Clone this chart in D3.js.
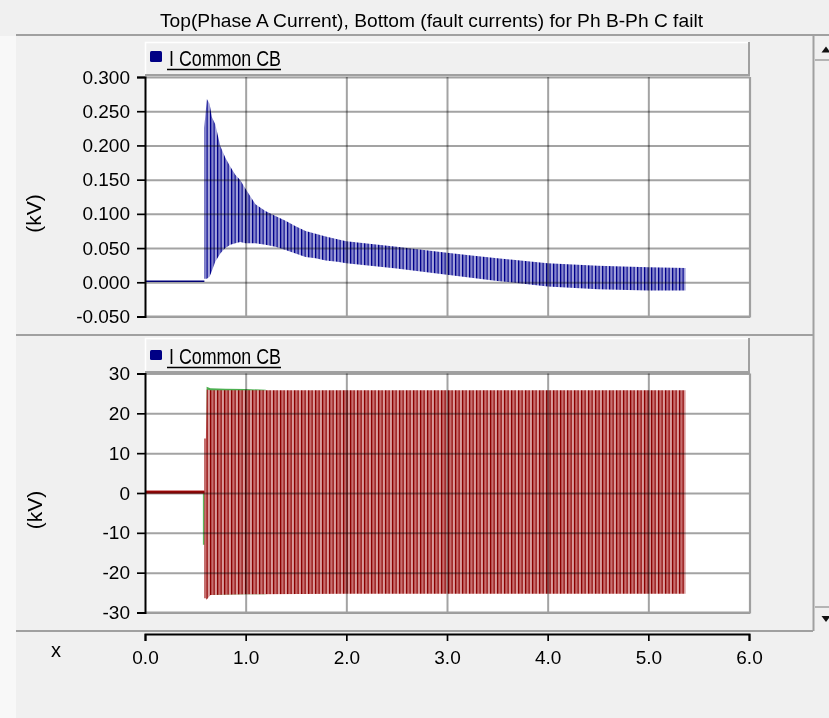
<!DOCTYPE html>
<html><head><meta charset="utf-8">
<script src="https://cdn.jsdelivr.net/npm/d3@7"></script>
<style>
html,body{margin:0;padding:0;background:#f0f0f0;}
svg{display:block;font-family:"Liberation Sans",Arial,sans-serif;}
</style></head><body>
<svg id="c" width="829" height="718"></svg>
<script>
// ---------- text ----------
const title = "Top(Phase A Current), Bottom (fault currents) for Ph B-Ph C failt";
const legendLabel = "I Common CB";
const yLabel = "(kV)";
const xLabel = "x";
// ---------- ticks ----------
const xTicks = [0, 1, 2, 3, 4, 5, 6];
const topTicks = [0.300, 0.250, 0.200, 0.150, 0.100, 0.050, 0.000, -0.050];
const bottomTicks = [30, 20, 10, 0, -10, -20, -30];
// ---------- top panel: Phase A current (envelope of fast oscillation) ----------
const topPreT = [0.00, 0.59];
const topPreV = [0.0015, 0.0015];
const topT     = [0.588,0.615,0.641,0.665,0.698,0.748,0.798,0.848,0.897,0.947,0.997,1.097,1.196,1.296,1.396,1.496,1.595,1.695,1.795,1.911,2.0,2.5,3.0,3.5,4.0,4.5,5.0,5.37];
const topUpper = [0.226,0.268,0.261,0.241,0.231,0.199,0.182,0.169,0.157,0.149,0.137,0.114,0.104,0.097,0.090,0.082,0.075,0.071,0.067,0.063,0.060,0.052,0.043,0.035,0.028,0.024,0.022,0.021];
const topLower = [0.005,0.005,0.008,0.017,0.030,0.042,0.050,0.055,0.057,0.059,0.057,0.057,0.055,0.052,0.047,0.042,0.037,0.035,0.032,0.030,0.028,0.020,0.011,0.002,-0.006,-0.010,-0.012,-0.012];
// ---------- bottom panel: fault currents Ph B (red) / Ph C (green) ----------
const botPreT = [0.00, 0.59];
const botPreUpper = [0.6, 0.6];
const botPreLower = [-0.2, -0.2];
const phBT     = [0.588, 0.605, 0.612, 0.65, 1.0, 2.0, 3.0, 4.0, 5.0, 5.37];
const phBUpper = [13.7, 13.7, 26.0, 25.8, 25.8, 25.8, 25.8, 25.8, 25.8, 25.8];
const phBLower = [-26.4, -26.4, -26.8, -25.6, -25.4, -25.3, -25.3, -25.3, -25.3, -25.3];
const phCT     = [0.612, 0.65, 0.8, 1.0, 1.2];
const phCUpper = [26.7, 26.3, 26.2, 26.1, 25.9];
const phCLower = [-25.6, -25.6, -25.5, -25.4, -25.4];
const phCStartT = [0.585, 0.585];
const phCStartV = [0, -13];

// ---------- layout ----------
const svg = d3.select("#c");
const L = 145, R = 750;
const x = d3.scaleLinear().domain([0, 6]).range([145, 749]);
const topBox = {y0: 77, y1: 316.5};
const botBox = {y0: 373.5, y1: 612.5};
const yTop = d3.scaleLinear().domain([-0.05, 0.3]).range([topBox.y1, topBox.y0]);
const yBot = d3.scaleLinear().domain([-30, 30]).range([botBox.y1, botBox.y0]);
const FONT = "Liberation Sans, Arial, sans-serif";

// background
svg.append("rect").attr("width", 829).attr("height", 718).attr("fill", "#f0f0f0");
svg.append("rect").attr("x", 0).attr("y", 36).attr("width", 16).attr("height", 682).attr("fill", "#f8f8f8");

// patterns
const defs = svg.append("defs");
function stripes(id, base, dark, light) {
  const p = defs.append("pattern").attr("id", id).attr("patternUnits", "userSpaceOnUse")
    .attr("width", 7).attr("height", 20);
  p.append("rect").attr("width", 7).attr("height", 20).attr("fill", base);
  p.append("rect").attr("x", 0).attr("width", 1.3).attr("height", 20).attr("fill", dark);
  p.append("rect").attr("x", 3.6).attr("width", 1.0).attr("height", 20).attr("fill", dark);
  p.append("rect").attr("x", 5.6).attr("width", 0.7).attr("height", 20).attr("fill", light);
}
stripes("blueStripes", "#8585cc", "#00008b", "#d6d6f0");
stripes("redStripes", "#c76e6e", "#8b0000", "#f6e4e4");

// title
svg.append("text").attr("x", 431.5).attr("y", 27).attr("text-anchor", "middle")
  .attr("font-size", 19).attr("font-family", FONT).attr("fill", "#000")
  .attr("textLength", 543).attr("lengthAdjust", "spacingAndGlyphs").text(title);

// frame lines
const frame = svg.append("g").attr("stroke", "#a0a0a0").attr("stroke-width", 2).attr("fill", "none");
frame.append("line").attr("x1", 16).attr("x2", 829).attr("y1", 35).attr("y2", 35);
frame.append("line").attr("x1", 16).attr("x2", 813).attr("y1", 335).attr("y2", 335);
frame.append("line").attr("x1", 16).attr("x2", 813).attr("y1", 631).attr("y2", 631);
frame.append("line").attr("x1", 813.5).attr("x2", 813.5).attr("y1", 36).attr("y2", 631);
frame.append("line").attr("x1", 815).attr("x2", 829).attr("y1", 60).attr("y2", 60).attr("stroke-width", 1.5);
frame.append("line").attr("x1", 815).attr("x2", 829).attr("y1", 607).attr("y2", 607).attr("stroke-width", 1.5);
svg.append("path").attr("d", "M821.5,52.5 L826,46.5 L830.5,52.5 Z").attr("fill", "#111");
svg.append("path").attr("d", "M821.5,616 L830.5,616 L826,622 Z").attr("fill", "#111");

// legend box
function legend(yTopL, yBotL, sqY, sqH, baseline, ulY) {
  const g = svg.append("g");
  g.append("rect").attr("x", L).attr("y", yTopL).attr("width", 749 - L).attr("height", yBotL - yTopL).attr("fill", "#f0f0f0");
  g.append("path").attr("d", `M${L + 0.5},${yBotL} V${yTopL + 0.5} H749`).attr("stroke", "#ffffff").attr("stroke-width", 1.5).attr("fill", "none");
  g.append("path").attr("d", `M749,${yTopL} V${yBotL} H${L}`).attr("stroke", "#a0a0a0").attr("stroke-width", 2).attr("fill", "none");
  g.append("rect").attr("x", 150).attr("y", sqY).attr("width", 12).attr("height", sqH).attr("rx", 1.5).attr("fill", "#000085");
  g.append("text").attr("x", 169).attr("y", baseline).attr("font-size", 22).attr("font-family", FONT)
    .attr("fill", "#000").attr("textLength", 112).attr("lengthAdjust", "spacingAndGlyphs").text(legendLabel);
  g.append("line").attr("x1", 167).attr("x2", 281).attr("y1", ulY).attr("y2", ulY).attr("stroke", "#000").attr("stroke-width", 1.5);
}
legend(42, 75, 51, 11, 66, 69.5);
legend(338, 372, 350, 10, 363.5, 367.5);

// plot backgrounds
function plotBg(box) {
  svg.append("rect").attr("x", L).attr("y", box.y0).attr("width", R - L).attr("height", box.y1 - box.y0).attr("fill", "#fff");
}
plotBg(topBox); plotBg(botBox);

// areas / series
const area = (ys) => d3.area().x(d => x(d.t)).y0(d => ys(d.lo)).y1(d => ys(d.hi));
const line = (ys) => d3.line().x(d => x(d.t)).y(d => ys(d.v));

// top series
const topData = topT.map((t, i) => ({t, hi: topUpper[i], lo: topLower[i]}));
svg.append("path").datum(topData).attr("d", area(yTop)).attr("fill", "url(#blueStripes)");
svg.append("path").datum(topPreT.map((t, i) => ({t, v: topPreV[i]})))
  .attr("d", line(yTop)).attr("stroke", "#000080").attr("stroke-width", 1.6).attr("fill", "none");

// bottom series
const phCData = phCT.map((t, i) => ({t, hi: phCUpper[i], lo: phCLower[i]}));
svg.append("path").datum(phCData).attr("d", area(yBot)).attr("fill", "#4caf50");
svg.append("path").datum(phCStartT.map((t, i) => ({t, v: phCStartV[i]})))
  .attr("d", line(yBot)).attr("stroke", "#5cb85c").attr("stroke-width", 2).attr("fill", "none");
const phBData = phBT.map((t, i) => ({t, hi: phBUpper[i], lo: phBLower[i]}));
svg.append("path").datum(phBData).attr("d", area(yBot)).attr("fill", "url(#redStripes)");
const preB = botPreT.map((t, i) => ({t, hi: botPreUpper[i], lo: botPreLower[i]}));
svg.append("path").datum(preB).attr("d", area(yBot)).attr("fill", "#b22222");
svg.append("path").datum(botPreT.map((t) => ({t, v: 0.25})))
  .attr("d", line(yBot)).attr("stroke", "#8b0000").attr("stroke-width", 1.3).attr("fill", "none");

// grids (multiply so they show through bands)
function grid(box, ys, ticks) {
  const gh = svg.append("g").attr("transform", `translate(${L},0)`)
    .call(d3.axisLeft(ys).tickValues(ticks).tickSize(-(R - L)).tickFormat(""));
  gh.select(".domain").remove();
  gh.selectAll("line").attr("stroke", "#a3a3a3").attr("stroke-width", 2).style("mix-blend-mode", "multiply");
  const gv = svg.append("g").attr("transform", `translate(0,${box.y1})`)
    .call(d3.axisBottom(x).tickValues(xTicks.slice(1, -1)).tickSize(-(box.y1 - box.y0)).tickFormat(""));
  gv.select(".domain").remove();
  gv.selectAll("line").attr("stroke", "#a3a3a3").attr("stroke-width", 2).style("mix-blend-mode", "multiply");
  svg.append("path").attr("d", `M${R},${box.y0} V${box.y1} H${L}`).attr("stroke", "#a0a0a0").attr("stroke-width", 2.2).attr("fill", "none");
}
grid(topBox, yTop, topTicks);
grid(botBox, yBot, bottomTicks);

// y axes
function yAxis(ys, ticks, fmt) {
  const g = svg.append("g").attr("transform", `translate(${L},0)`)
    .call(d3.axisLeft(ys).tickValues(ticks).tickFormat(fmt).tickSize(8).tickPadding(7));
  g.attr("font-size", 19).attr("font-family", FONT);
  g.select(".domain").attr("stroke", "#000").attr("stroke-width", 2);
  g.selectAll(".tick line").attr("stroke", "#000").attr("stroke-width", 1.7);
  g.selectAll(".tick text").attr("fill", "#000");
}
yAxis(yTop, topTicks, d => d.toFixed(3));
yAxis(yBot, bottomTicks, d => String(d));

// y labels
svg.append("text").attr("transform", "translate(33,213.5) rotate(-90)").attr("text-anchor", "middle")
  .attr("dominant-baseline", "central").attr("font-size", 21).attr("font-family", FONT).text(yLabel);
svg.append("text").attr("transform", "translate(34,510) rotate(-90)").attr("text-anchor", "middle")
  .attr("dominant-baseline", "central").attr("font-size", 21).attr("font-family", FONT).text(yLabel);

// x axis
const gx = svg.append("g").attr("transform", "translate(0,634)")
  .call(d3.axisBottom(x).tickValues(xTicks).tickFormat(d => d.toFixed(1)).tickSize(7).tickPadding(10));
gx.attr("font-size", 19).attr("font-family", FONT);
gx.select(".domain").attr("stroke", "#000").attr("stroke-width", 2);
gx.selectAll(".tick line").attr("stroke", "#000").attr("stroke-width", 1.7);
gx.selectAll(".tick text").attr("fill", "#000");
svg.append("text").attr("x", 56).attr("y", 657).attr("text-anchor", "middle")
  .attr("font-size", 20).attr("font-family", FONT).text(xLabel);
</script>
</body></html>
